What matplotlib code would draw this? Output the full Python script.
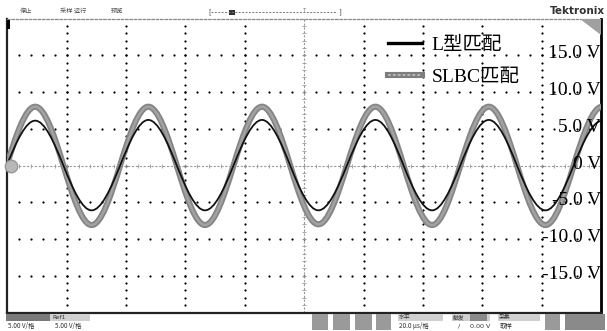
import numpy as np
import matplotlib
matplotlib.use('Agg')
import matplotlib.pyplot as plt
import matplotlib.transforms as mtransforms
from matplotlib.path import Path
from matplotlib.patches import PathPatch, Rectangle, Polygon
from matplotlib.lines import Line2D
from matplotlib.font_manager import FontProperties

# ---------------- data read from the screen ----------------
# times (µs) of zero crossings / extrema of the two traces
key_times_us = [-100.2, -90.6, -81.1, -71.6, -62.0, -52.5, -42.9, -33.4, -23.8,
                -14.2, -4.7, 4.8, 14.4, 24.0, 33.5, 43.1, 52.6, 62.2, 71.7,
                81.3, 90.8, 100.4]
# L-type matching (black trace), volts at those instants
l_match_v = [0, 6.1, 0, -6.1, 0, 6.2, 0, -6.1, 0, 6.2, 0, -6.1, 0, 6.2, 0,
             -6.1, 0, 6.2, 0, -6.1, 0, 6.1]
# SLBC matching (grey trace), volts at those instants
slbc_match_v = [0, 8.0, 0, -8.1, 0, 8.0, 0, -8.1, 0, 8.0, 0, -8.0, 0, 8.0, 0,
                -8.1, 0, 8.0, 0, -8.1, 0, 8.0]

series_labels = ["L型匹配", "SLBC匹配"]
volt_levels = [15, 10, 5, 0, -5, -10, -15]
volt_labels = ["15.0 V", "10.0 V", "5.0 V", "0 V", "-5.0 V", "-10.0 V", "-15.0 V"]

t_min, t_max = -100, 100      # 20 µs/div, 10 div
v_min, v_max = -20, 20        # 5 V/div, 8 div
t_div, v_div = 20, 5

W, H = 607, 331
fig = plt.figure(figsize=(W / 100, H / 100), dpi=100)
fig.patch.set_facecolor('white')

def fx(x):
    return x / W

def fy(y):
    return 1 - y / H

ax_l, ax_r, ax_t, ax_b = 7.3, 601.0, 18.5, 312.5
ax = fig.add_axes([fx(ax_l), fy(ax_b), (ax_r - ax_l) / W, (ax_b - ax_t) / H])
ax.set_xlim(t_min, t_max)
ax.set_ylim(v_min, v_max)
ax.set_xticks([])
ax.set_yticks([])
ax.set_facecolor('white')
for side in ['left', 'bottom']:
    ax.spines[side].set_color('#222222')
    ax.spines[side].set_linewidth(1.6)
ax.spines['right'].set_color('black')
ax.spines['right'].set_linewidth(2.0)
ax.spines['top'].set_color('#8a8a8a')
ax.spines['top'].set_linewidth(0.9)
ax.spines['top'].set_linestyle((0, (2, 1.5)))

# ---------------- graticule ----------------
vgrid = np.arange(t_min + t_div, t_max, t_div)
hgrid = np.arange(v_min + v_div, v_max, v_div)
t_dots = np.arange(t_min + 4, t_max, 4)
v_dots = np.arange(v_min + 1, v_max, 1)
for tv in vgrid:
    if tv == 0:
        continue
    ax.plot(np.full_like(v_dots, tv, dtype=float), v_dots, ls='none', marker='o',
            ms=1.6, mec='none', mfc='black', zorder=1)
for vv in hgrid:
    if vv == 0:
        continue
    ax.plot(t_dots, np.full_like(t_dots, vv, dtype=float), ls='none', marker='o',
            ms=1.6, mec='none', mfc='black', zorder=1)
# centre crosshair (dashed, grey) with small ticks
ax.axvline(0, color='#9a9a9a', lw=0.8, ls=(0, (2, 1.5)), zorder=1)
ax.axhline(0, color='#9a9a9a', lw=0.8, ls=(0, (2, 1.5)), zorder=1)
ax.plot(np.zeros_like(v_dots, dtype=float), v_dots, ls='none', marker='_', ms=3,
        mew=0.6, color='#9a9a9a', zorder=1)
ax.plot(t_dots, np.zeros_like(t_dots, dtype=float), ls='none', marker='|', ms=3,
        mew=0.6, color='#9a9a9a', zorder=1)

# ---------------- traces ----------------
def trace_path(t, v):
    t = np.asarray(t, float)
    v = np.asarray(v, float)
    n = len(t)
    slope = np.zeros(n)
    for i in range(n):
        if v[i] == 0:
            if 0 < i < n - 1:
                a = (v[i + 1] - v[i - 1]) / 2
                h = (t[i + 1] - t[i - 1]) / 2
            elif i == 0:
                a = v[1]
                h = t[1] - t[0]
            else:
                a = -v[i - 1]
                h = t[i] - t[i - 1]
            slope[i] = a * np.pi / (2 * h)
    verts = [(t[0], v[0])]
    codes = [Path.MOVETO]
    for i in range(n - 1):
        h = t[i + 1] - t[i]
        verts += [(t[i] + h / 3, v[i] + slope[i] * h / 3),
                  (t[i + 1] - h / 3, v[i + 1] - slope[i + 1] * h / 3),
                  (t[i + 1], v[i + 1])]
        codes += [Path.CURVE4] * 3
    return Path(verts, codes)

slbc_path = trace_path(key_times_us, slbc_match_v)
l_path = trace_path(key_times_us, l_match_v)
ax.add_patch(PathPatch(slbc_path, fill=False, ec='#858585', lw=4.4, zorder=3,
                       capstyle='butt'))
ax.add_patch(PathPatch(slbc_path, fill=False, ec='#a2a2a2', lw=1.8, zorder=3,
                       capstyle='butt'))
ax.add_patch(PathPatch(l_path, fill=False, ec='#111111', lw=1.3, zorder=4))

# ---------------- legend ----------------
leg_font = FontProperties(family=['Liberation Serif', 'Noto Sans CJK SC'], size=14)
h_l = Line2D([], [], color='black', lw=2.4)
h_s1 = Line2D([], [], color='#7d7d7d', lw=4.4)
h_s2 = Line2D([], [], color='#b5b5b5', lw=1.4, ls=(0, (1.5, 1)))
leg = ax.legend([h_l, (h_s1, h_s2)], series_labels, loc='upper left',
                bbox_to_anchor=((388 - ax_l) / (ax_r - ax_l), (ax_b - 36) / (ax_b - ax_t)),
                frameon=False, prop=leg_font, handlelength=1.75, handletextpad=0.5,
                labelspacing=0.75, borderpad=0, borderaxespad=0)
leg.set_zorder(6)

# ---------------- voltage labels ----------------
trans = mtransforms.blended_transform_factory(ax.transAxes, ax.transData)
for lv, lab in zip(volt_levels, volt_labels):
    ax.text(1.0, lv + 0.2, lab, transform=trans, ha='right', va='center', fontsize=14,
            family=['Liberation Serif'], color='black', zorder=5)

# channel / trigger markers
ax.plot([0.006], [0], transform=trans, marker='o', ms=9, color='#b8b8b8',
        mec='#999999', clip_on=False, zorder=5)
ax.add_patch(Polygon([[0.965, 1.0], [1.0, 1.0], [1.0, 0.945]], closed=True,
                     transform=ax.transAxes, fc='#a0a0a0', ec='none', zorder=5))
ax.add_patch(Rectangle((0.0, 0.965), 0.005, 0.03, transform=ax.transAxes,
                       fc='black', ec='none', zorder=5))

# ---------------- top status line ----------------
small_font = ['Noto Sans CJK SC', 'DejaVu Sans']
fig.text(fx(20), fy(11), "停止", fontsize=4.5, family=small_font, color='#555555',
         va='center')
fig.text(fx(60), fy(11), "采样 运行", fontsize=4.5, family=small_font, color='#555555',
         va='center')
fig.text(fx(111), fy(11), "预览", fontsize=4.5, family=small_font, color='#555555',
         va='center')
fig.text(fx(208), fy(12), "[", fontsize=5, color='#555555', va='center')
fig.text(fx(338), fy(12), "]", fontsize=5, color='#555555', va='center')
fig.add_artist(Line2D([fx(211), fx(337)], [fy(12), fy(12)], lw=0.7, color='#777777',
                      ls=(0, (2, 1.5))))
fig.add_artist(Rectangle((fx(229.5), fy(14.5)), 5 / W, 5 / H, fc='#333333', ec='none'))
fig.text(fx(304), fy(10), "T", fontsize=4, color='#777777', ha='center', va='center')
fig.text(fx(605), fy(11), "Tektronix", fontsize=7.5, family=['DejaVu Sans'],
         fontweight='bold', color='#333333', ha='right', va='center')

# ---------------- bottom status bar ----------------
def block(x0, y0, x1, y1, fc):
    fig.add_artist(Rectangle((fx(x0), fy(y1)), (x1 - x0) / W, (y1 - y0) / H, fc=fc,
                             ec='none'))

block(6, 313.5, 50, 321, '#7a7a7a')
block(50, 313.5, 90, 321, '#d0d0d0')
fig.text(fx(52), fy(317.5), "Ref1", fontsize=4.2, color='#333333', va='center')
fig.text(fx(8), fy(326), "5.00 V/格", fontsize=4.6, family=small_font, color='#333333',
         va='center')
fig.text(fx(55), fy(326), "5.00 V/格", fontsize=4.6, family=small_font, color='#333333',
         va='center')
for xb0, xb1 in [(312, 328), (333, 350), (355, 372), (376, 391)]:
    block(xb0, 313.5, xb1, 330, '#9a9a9a')
block(398, 313.5, 443, 321, '#d0d0d0')
fig.text(fx(399), fy(317.5), "水平", fontsize=4.2, family=small_font, color='#333333',
         va='center')
fig.text(fx(399), fy(326), "20.0 µs/格", fontsize=4.6, family=small_font,
         color='#333333', va='center')
block(452, 313.5, 490, 321, '#d0d0d0')
block(470, 313.5, 487, 321, '#8a8a8a')
fig.text(fx(453), fy(317.5), "触发", fontsize=4.2, family=small_font, color='#333333',
         va='center')
fig.text(fx(458), fy(326), "/", fontsize=4.6, family=['DejaVu Sans'], color='#333333',
         va='center')
fig.text(fx(470), fy(326), "0.00 V", fontsize=4.6, color='#333333', va='center')
block(498, 313.5, 540, 321, '#d0d0d0')
fig.text(fx(499), fy(317.5), "采集", fontsize=4.2, family=small_font, color='#333333',
         va='center')
fig.text(fx(500), fy(326), "取样", fontsize=4.6, family=small_font, color='#333333',
         va='center')
block(545, 313.5, 560, 330, '#9a9a9a')
block(565, 313.5, 605, 330, '#8a8a8a')

fig.savefig('out.png', dpi=100, facecolor='white')
